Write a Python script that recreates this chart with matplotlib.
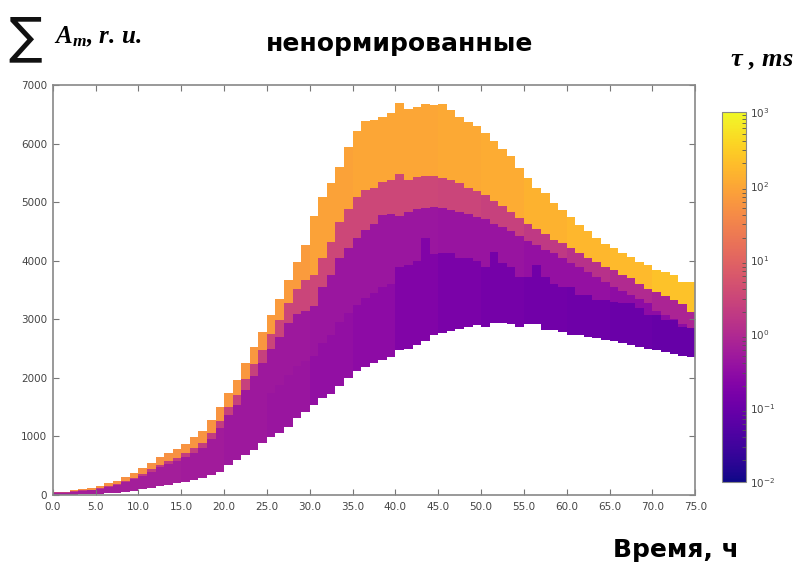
import matplotlib
matplotlib.use("Agg")
import matplotlib.pyplot as plt
import numpy as np
from matplotlib.colors import LogNorm

plt.rcParams.update({"font.family": "DejaVu Sans", "mathtext.fontset": "custom",
                     "mathtext.bfit": "Liberation Serif:italic:bold",
                     "mathtext.it": "Liberation Serif:italic"})

# hourly bins, 0..75 h
t_edges = np.arange(0, 75)

# cumulative levels of the stacked amplitudes (r.u.)
base = [0, 0, 5, 10, 15, 25, 32, 40, 50, 70, 100, 125, 150, 175, 200, 225, 250, 290, 335, 400,
        505, 595, 680, 770, 880, 990, 1065, 1165, 1310, 1410, 1535, 1650, 1725, 1860, 1990, 2115, 2190, 2260, 2305, 2360,
        2475, 2485, 2560, 2635, 2730, 2770, 2800, 2830, 2875, 2900, 2875, 2940, 2940, 2920, 2875, 2920, 2920, 2820, 2810, 2790,
        2740, 2725, 2700, 2675, 2650, 2625, 2600, 2560, 2530, 2500, 2470, 2440, 2405, 2380, 2360]
top_a = [20, 20, 30, 40, 45, 65, 85, 105, 135, 170, 210, 260, 310, 350, 390, 435, 480, 540, 640, 770,
         930, 1070, 1240, 1400, 1570, 1750, 1880, 2050, 2200, 2280, 2380, 2600, 2740, 2950, 3100, 3250, 3370, 3450, 3560, 3600,
         3900, 3920, 4000, 4380, 4120, 4130, 4130, 4050, 4040, 4000, 3900, 4150, 3960, 3900, 3725, 3725, 3925, 3725, 3610, 3555,
         3555, 3415, 3415, 3330, 3330, 3300, 3270, 3270, 3200, 3070, 3070, 2985, 2985, 2870, 2845]
top_b = [40, 40, 59, 69, 79, 107, 139, 172, 221, 270, 325, 401, 478, 531, 584, 650, 720, 802, 955, 1140,
         1360, 1545, 1795, 2035, 2260, 2500, 2700, 2930, 3090, 3150, 3225, 3555, 3755, 4040, 4210, 4380, 4530, 4625, 4780, 4805,
         4760, 4835, 4890, 4900, 4920, 4900, 4860, 4835, 4795, 4750, 4705, 4635, 4570, 4505, 4420, 4340, 4265, 4190, 4125, 4040,
         3965, 3895, 3810, 3725, 3640, 3555, 3485, 3415, 3340, 3285, 3150, 3070, 3000, 2920, 2860]
top_c = [45, 45, 67, 77, 89, 119, 154, 190, 243, 296, 355, 436, 518, 576, 634, 710, 795, 892, 1060, 1260,
         1500, 1705, 1980, 2235, 2480, 2750, 2990, 3270, 3510, 3670, 3765, 4040, 4325, 4665, 4890, 5090, 5205, 5250, 5345, 5375,
         5480, 5385, 5430, 5440, 5440, 5420, 5375, 5320, 5250, 5185, 5120, 5020, 4930, 4835, 4730, 4635, 4550, 4455, 4350, 4295,
         4210, 4125, 4050, 3980, 3895, 3840, 3755, 3700, 3610, 3525, 3470, 3395, 3330, 3260, 3130]
top_d = [55, 57, 85, 97, 114, 154, 199, 245, 313, 381, 455, 551, 643, 711, 779, 870, 985, 1097, 1280, 1500,
         1750, 1965, 2250, 2520, 2780, 3070, 3340, 3670, 3970, 4270, 4760, 5090, 5320, 5600, 5945, 6220, 6390, 6410, 6450, 6515,
         6700, 6590, 6630, 6670, 6655, 6670, 6570, 6450, 6370, 6300, 6180, 6045, 5915, 5785, 5590, 5415, 5250, 5150, 4980, 4860,
         4750, 4610, 4510, 4380, 4285, 4210, 4135, 4065, 3980, 3925, 3850, 3810, 3755, 3640, 3640]

# relaxation time of each component (ms), one value per 5-hour block
tau_a = [0.6, 0.6, 0.6, 0.55, 0.5, 0.42, 0.34, 0.28, 0.2, 0.16, 0.14, 0.12, 0.11, 0.1, 0.09]
tau_b = [0.6, 0.6, 0.6, 0.55, 0.5, 0.48, 0.45, 0.45, 0.45, 0.4, 0.4, 0.35, 0.35, 0.3, 0.3]
tau_c = [2.0, 2.0, 2.0, 2.2, 2.5, 3.0, 3.2, 3.2, 3.2, 3.0, 2.5, 1.8, 1.3, 1.0, 0.8]
tau_d = [50, 50, 50, 55, 60, 70, 85, 100, 100, 110, 120, 140, 160, 180, 220]

levels = [base, top_a, top_b, top_c, top_d]
taus = [tau_a, tau_b, tau_c, tau_d]

cmap = plt.get_cmap("plasma")
norm = LogNorm(1e-2, 1e3)

fig = plt.figure(figsize=(8, 5.67), dpi=100)
ax = fig.add_axes([0.066, 0.127, 0.803, 0.723])

for k in range(4):
    lo = np.array(levels[k], float)
    hi = np.array(levels[k + 1], float)
    colors = cmap(norm(np.repeat(taus[k], 5)))
    ax.bar(t_edges, hi - lo, bottom=lo, width=1.0, align="edge",
           color=colors, linewidth=0, antialiased=False)

ax.set_xlim(0, 75)
ax.set_ylim(0, 7000)
ax.set_xticks(np.arange(0, 76, 5))
ax.set_xticklabels([f"{v:.1f}" for v in np.arange(0, 76, 5)])
ax.set_yticks(np.arange(0, 7001, 1000))
ax.tick_params(direction="in", top=True, right=True, length=4, width=0.8,
               color="#777777", labelsize=7.5, labelcolor="#444444")
ax.tick_params(axis="x", pad=5)
ax.tick_params(axis="y", pad=4)
for s in ax.spines.values():
    s.set_color("#888888")
    s.set_linewidth(1.2)

cax = fig.add_axes([0.903, 0.150, 0.029, 0.653])
sm = plt.cm.ScalarMappable(norm=norm, cmap=cmap)
cb = fig.colorbar(sm, cax=cax)
cb.outline.set_edgecolor("#888888")
cb.ax.tick_params(which="both", direction="in", color="#555555", labelsize=7.5,
                  labelcolor="#444444")
cb.ax.tick_params(which="major", length=0)
cb.ax.tick_params(which="minor", length=3)

fig.text(0.010, 0.932, "\u2211", fontsize=36, ha="left", va="center", color="#111111")
fig.text(0.068, 0.935, r"$\mathbfit{A}_{\mathbfit{m}}$, r. u.", fontsize=18,
         family="Liberation Serif", style="italic", weight="bold", ha="left", va="center")
fig.text(0.50, 0.922, "ненормированные", fontsize=18, weight="bold", ha="center", va="center")
fig.text(0.952, 0.893, r"$\mathbfit{\tau}$ , ms", fontsize=19,
         family="Liberation Serif", style="italic", weight="bold", ha="center", va="center")
fig.text(0.845, 0.03, "Время, ч", fontsize=18, weight="bold", ha="center", va="center")

fig.savefig("out.png", dpi=100)
